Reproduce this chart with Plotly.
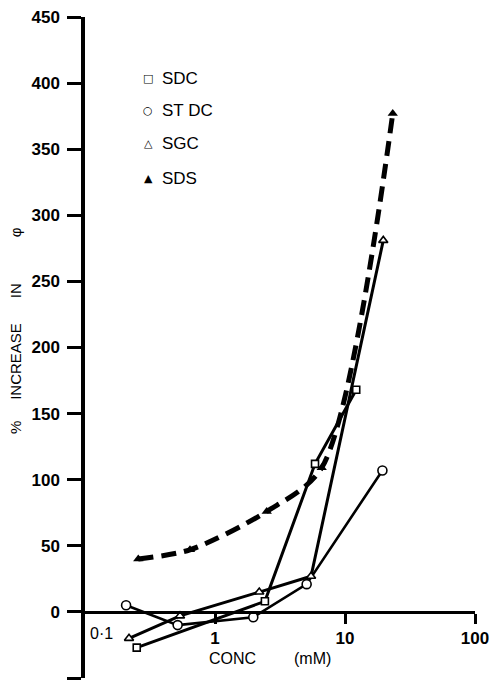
import plotly.graph_objects as go

# ---- data ----
sdc_x = [0.25, 2.42, 5.88, 12.2]
sdc_y = [-27, 8, 112, 168]

stdc_x = [0.207, 0.516, 1.97, 5.07, 19.4]
stdc_y = [5, -10, -4, 21, 107]

sgc_x = [0.218, 0.538, 2.19, 5.48, 19.7]
sgc_y = [-20, -3, 15, 27, 281]

sds_x = [0.257, 0.642, 2.5, 6.62, 23.3]
sds_y = [40, 47, 76, 109, 377]

y_ticks = [-50, 0, 50, 100, 150, 200, 250, 300, 350, 400, 450]
y_ticktext = ["- 50", "0", "50", "100", "150", "200", "250", "300", "350", "400", "450"]
x_ticks = [1, 10, 100]
x_ticktext = ["1", "10", "100"]

legend_names = ["SDC", "ST DC", "SGC", "SDS"]
legend_glyphs = ["\u25a1", "\u25cb", "\u25b3", "\u25b2"]

FONT = "Liberation Sans"
W, H = 497, 683
ML, MR, MT, MB = 85, 22, 17, 5
PW, PH = W - ML - MR, H - MT - MB


def px(x):
    return (x - ML) / PW


def py(y):
    return (H - MB - y) / PH


fig = go.Figure()

fig.add_trace(go.Scatter(
    x=sds_x, y=sds_y, mode="lines+markers", name="SDS",
    line=dict(color="black", width=5, dash="15px,8px", shape="spline", smoothing=0.8),
    marker=dict(symbol="triangle-up", size=9, color="black"),
))
fig.add_trace(go.Scatter(
    x=sdc_x, y=sdc_y, mode="lines+markers", name="SDC",
    line=dict(color="black", width=3),
    marker=dict(symbol="square", size=7, color="white", line=dict(color="black", width=1.6)),
))
fig.add_trace(go.Scatter(
    x=stdc_x, y=stdc_y, mode="lines+markers", name="STDC",
    line=dict(color="black", width=2.6),
    marker=dict(symbol="circle", size=9, color="white", line=dict(color="black", width=1.6)),
))
fig.add_trace(go.Scatter(
    x=sgc_x, y=sgc_y, mode="lines+markers", name="SGC",
    line=dict(color="black", width=3),
    marker=dict(symbol="triangle-up", size=8, color="white", line=dict(color="black", width=1.6)),
))

annotations = []
# legend
rows = [78, 111, 143, 178]
for glyph, name, ry in zip(legend_glyphs, legend_names, rows):
    annotations.append(dict(x=px(148), y=py(ry), xref="paper", yref="paper", text=glyph,
                            showarrow=False, font=dict(family="DejaVu Sans", size=11, color="black"),
                            xanchor="center", yanchor="middle"))
    annotations.append(dict(x=px(160), y=py(ry), xref="paper", yref="paper", text=name,
                            showarrow=False, font=dict(family=FONT, size=17, color="black"),
                            xanchor="left", yanchor="middle"))

NB = "\u00a0"
# x axis labels
annotations.append(dict(x=px(101), y=py(633), xref="paper", yref="paper", text="0\u00b71",
                        showarrow=False, font=dict(family=FONT, size=16, color="black"),
                        xanchor="center", yanchor="middle"))
annotations.append(dict(x=px(232), y=py(658), xref="paper", yref="paper", text="CONC",
                        showarrow=False, font=dict(family=FONT, size=16, color="black"),
                        xanchor="center", yanchor="middle"))
annotations.append(dict(x=px(312), y=py(658), xref="paper", yref="paper", text="(mM)",
                        showarrow=False, font=dict(family=FONT, size=16, color="black"),
                        xanchor="center", yanchor="middle"))
# y axis label
annotations.append(dict(x=px(15), y=py(331), xref="paper", yref="paper",
                        text="%" + NB * 5 + "INCREASE" + NB * 6 + "IN" + NB * 11 + "\u03c6",
                        textangle=-90, showarrow=False,
                        font=dict(family=FONT, size=15, color="black"),
                        xanchor="center", yanchor="middle"))

zero_pos = (0 - (-50)) / 500.0

fig.update_layout(
    width=W, height=H,
    margin=dict(l=ML, r=MR, t=MT, b=MB),
    paper_bgcolor="white", plot_bgcolor="white",
    showlegend=False,
    annotations=annotations,
    xaxis=dict(type="log", range=[-1, 2], anchor="free", position=zero_pos,
               showline=True, linecolor="black", linewidth=3,
               showgrid=False, zeroline=False,
               ticks="outside", ticklen=10, tickwidth=3, tickcolor="black",
               tickvals=x_ticks, ticktext=x_ticktext,
               tickfont=dict(family=FONT, size=17, color="black", weight="bold")),
    yaxis=dict(range=[-50, 450], showline=True, linecolor="black", linewidth=3.5,
               showgrid=False, zeroline=False,
               ticks="outside", ticklen=14, tickwidth=3, tickcolor="black",
               ticklabelstandoff=4,
               tickvals=y_ticks, ticktext=y_ticktext,
               tickfont=dict(family=FONT, size=17, color="black", weight="bold")),
)

fig.write_html("out.html", config={"displayModeBar": False},
               post_script="document.body.style.margin='0';document.body.style.overflow='hidden';")
